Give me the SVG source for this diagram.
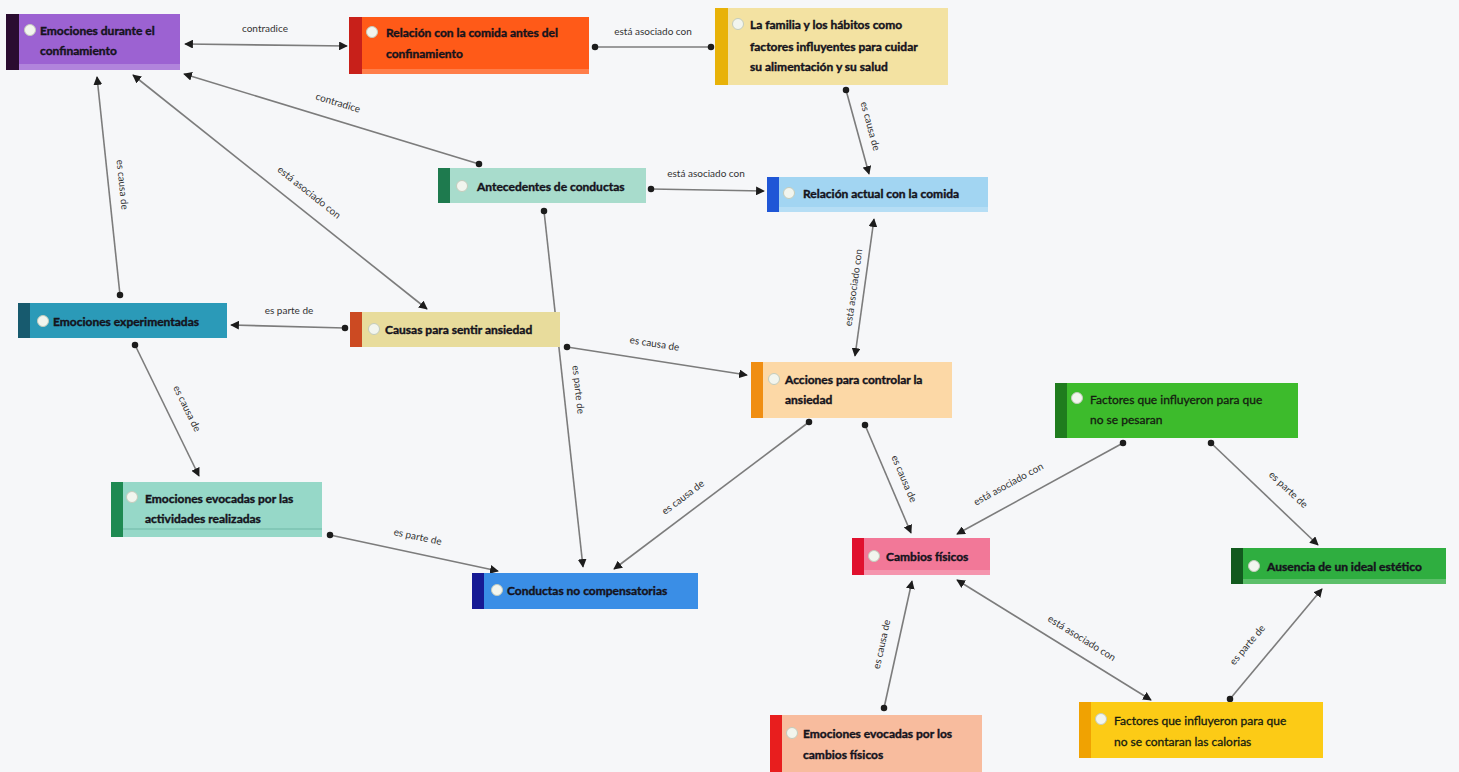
<svg xmlns="http://www.w3.org/2000/svg" width="1459" height="772" viewBox="0 0 1459 772">
<style>
.bg{fill:#f6f7f9}
.box{stroke:none}
.strip{fill:#ffffff;opacity:0.22}
.ico{fill:#f2f5ee;stroke:#c4ccbc;stroke-width:1}
.t{font-family:Lato,"Open Sans","Liberation Sans",sans-serif;font-size:12px;font-weight:700;fill:#15131c;stroke:#15131c;stroke-width:0.4}
.tn{font-weight:400;fill:#141a10;stroke:#141a10;stroke-width:0.3}
.c{stroke:#7c7c7c;stroke-width:1.6;fill:none}
.l{font-family:Lato,"Open Sans","Liberation Sans",sans-serif;font-size:10px;fill:#333333;text-anchor:middle}
</style>
<defs>
<marker id="dot" viewBox="0 0 10 10" refX="5" refY="5" markerWidth="4.5" markerHeight="4.5" markerUnits="strokeWidth"><circle cx="5" cy="5" r="4.5" fill="#1c1c1c"/></marker>
<marker id="arr" viewBox="0 0 10 10" refX="9" refY="5" markerWidth="5.5" markerHeight="5.5" orient="auto-start-reverse" markerUnits="strokeWidth"><path d="M0,0 L10,5 L0,10 z" fill="#1c1c1c"/></marker>
</defs>
<rect class="bg" x="0" y="0" width="1459" height="772"/>

<g id="connectors">
<line class="c" x1="185" y1="44" x2="347" y2="46" marker-start="url(#arr)" marker-end="url(#arr)"/>
<text class="l" x="265" y="32">contradice</text>
<line class="c" x1="595" y1="47" x2="711" y2="47" marker-start="url(#dot)" marker-end="url(#dot)"/>
<text class="l" x="653" y="35">está asociado con</text>
<line class="c" x1="846" y1="90" x2="869" y2="174" marker-start="url(#dot)" marker-end="url(#arr)"/>
<text class="l" transform="translate(867,127) rotate(75)">es causa de</text>
<line class="c" x1="651" y1="189" x2="764" y2="191" marker-start="url(#dot)" marker-end="url(#arr)"/>
<text class="l" x="706" y="177">está asociado con</text>
<line class="c" x1="479" y1="164" x2="184" y2="74" marker-start="url(#dot)" marker-end="url(#arr)"/>
<text class="l" transform="translate(337,106) rotate(17)">contradice</text>
<line class="c" x1="120" y1="295" x2="97" y2="77" marker-start="url(#dot)" marker-end="url(#arr)"/>
<text class="l" transform="translate(119,185) rotate(84)">es causa de</text>
<line class="c" x1="427" y1="309" x2="133" y2="75" marker-start="url(#arr)" marker-end="url(#arr)"/>
<text class="l" transform="translate(307,195) rotate(38.5)">está asociado con</text>
<line class="c" x1="345" y1="328" x2="231" y2="325" marker-start="url(#dot)" marker-end="url(#arr)"/>
<text class="l" x="289" y="314">es parte de</text>
<line class="c" x1="567" y1="347" x2="747" y2="375" marker-start="url(#dot)" marker-end="url(#arr)"/>
<text class="l" transform="translate(654,347) rotate(9)">es causa de</text>
<line class="c" x1="544" y1="211" x2="583" y2="567" marker-start="url(#dot)" marker-end="url(#arr)"/>
<text class="l" transform="translate(575,390) rotate(83.7)">es parte de</text>
<line class="c" x1="135" y1="345" x2="199" y2="476" marker-start="url(#dot)" marker-end="url(#arr)"/>
<text class="l" transform="translate(184,410) rotate(64)">es causa de</text>
<line class="c" x1="330" y1="535" x2="498" y2="571" marker-start="url(#dot)" marker-end="url(#arr)"/>
<text class="l" transform="translate(417,540) rotate(12)">es parte de</text>
<line class="c" x1="809" y1="422" x2="614" y2="569" marker-start="url(#dot)" marker-end="url(#arr)"/>
<text class="l" transform="translate(685,500) rotate(-37)">es causa de</text>
<line class="c" x1="874" y1="219" x2="855" y2="356" marker-start="url(#arr)" marker-end="url(#arr)"/>
<text class="l" transform="translate(857,288) rotate(-82)">está asociado con</text>
<line class="c" x1="865" y1="425" x2="911" y2="533" marker-start="url(#dot)" marker-end="url(#arr)"/>
<text class="l" transform="translate(901,480) rotate(67)">es causa de</text>
<line class="c" x1="1123" y1="443" x2="957" y2="534" marker-start="url(#dot)" marker-end="url(#arr)"/>
<text class="l" transform="translate(1010,487) rotate(-28.7)">está asociado con</text>
<line class="c" x1="1211" y1="443" x2="1318" y2="545" marker-start="url(#dot)" marker-end="url(#arr)"/>
<text class="l" transform="translate(1286,492) rotate(43)">es parte de</text>
<line class="c" x1="884" y1="708" x2="912" y2="581" marker-start="url(#dot)" marker-end="url(#arr)"/>
<text class="l" transform="translate(885,645) rotate(-77.5)">es causa de</text>
<line class="c" x1="957" y1="580" x2="1151" y2="700" marker-start="url(#arr)" marker-end="url(#arr)"/>
<text class="l" transform="translate(1080,641) rotate(31.7)">está asociado con</text>
<line class="c" x1="1230" y1="699" x2="1322" y2="589" marker-start="url(#dot)" marker-end="url(#arr)"/>
<text class="l" transform="translate(1250,647) rotate(-50)">es parte de</text>
</g>

<g id="n-emociones-confinamiento">
<rect class="box" x="6" y="14" width="174" height="56" fill="#9c62d2"/>
<rect class="strip" x="6" y="64" width="174" height="6"/>
<rect x="6" y="14" width="13" height="56" fill="#2a0c30"/>
<circle class="ico" cx="30" cy="30" r="5.5"/>
<text class="t" x="40" y="35">Emociones durante el</text>
<text class="t" x="40" y="55">confinamiento</text>
</g>

<g id="n-relacion-antes">
<rect class="box" x="349" y="17" width="240" height="57" fill="#ff5a18"/>
<rect class="strip" x="349" y="69" width="240" height="5"/>
<rect x="349" y="17" width="13" height="57" fill="#c8201a"/>
<circle class="ico" cx="372" cy="32" r="5.5"/>
<text class="t" x="386" y="37">Relación con la comida antes del</text>
<text class="t" x="386" y="58">confinamiento</text>
</g>

<g id="n-familia">
<rect class="box" x="715" y="8" width="233" height="77" fill="#f3e2a2"/>
<rect x="715" y="8" width="13" height="77" fill="#e8b208"/>
<circle class="ico" cx="738" cy="24" r="5.5"/>
<text class="t" x="750" y="29">La familia y los hábitos como</text>
<text class="t" x="750" y="51">factores influyentes para cuidar</text>
<text class="t" x="750" y="71">su alimentación y su salud</text>
</g>

<g id="n-antecedentes">
<rect class="box" x="438" y="168" width="208" height="35" fill="#a8dccc"/>
<rect x="438" y="168" width="12" height="35" fill="#1e7a4e"/>
<circle class="ico" cx="462" cy="186" r="5.5"/>
<text class="t" x="477" y="191">Antecedentes de conductas</text>
</g>

<g id="n-relacion-actual">
<rect class="box" x="767" y="177" width="221" height="35" fill="#a2d5f2"/>
<rect class="strip" x="767" y="207" width="221" height="5"/>
<rect x="767" y="177" width="12" height="35" fill="#1f56d6"/>
<circle class="ico" cx="789" cy="193" r="5.5"/>
<text class="t" x="803" y="198">Relación actual con la comida</text>
</g>

<g id="n-emociones-experimentadas">
<rect class="box" x="18" y="303" width="209" height="35" fill="#2b9ab8"/>
<rect x="18" y="303" width="12" height="35" fill="#175a6e"/>
<circle class="ico" cx="43" cy="321" r="5.5"/>
<text class="t" x="53" y="326">Emociones experimentadas</text>
</g>

<g id="n-causas">
<rect class="box" x="350" y="312" width="210" height="35" fill="#e8dc9c"/>
<rect x="350" y="312" width="12" height="35" fill="#cc4a22"/>
<circle class="ico" cx="374" cy="329" r="5.5"/>
<text class="t" x="385" y="334">Causas para sentir ansiedad</text>
</g>

<g id="n-acciones">
<rect class="box" x="751" y="362" width="201" height="56" fill="#fcd8a6"/>
<rect x="751" y="362" width="12" height="56" fill="#f08e12"/>
<circle class="ico" cx="774" cy="379" r="5.5"/>
<text class="t" x="785" y="384">Acciones para controlar la</text>
<text class="t" x="785" y="404">ansiedad</text>
</g>

<g id="n-factores-pesaran">
<rect class="box" x="1055" y="383" width="243" height="55" fill="#3dbb2c"/>
<rect x="1055" y="383" width="12" height="55" fill="#1f7c1e"/>
<circle class="ico" cx="1077" cy="398" r="5.5"/>
<text class="t tn" x="1090" y="404">Factores que influyeron para que</text>
<text class="t tn" x="1090" y="424">no se pesaran</text>
</g>

<g id="n-emociones-actividades">
<rect class="box" x="111" y="482" width="211" height="55" fill="#96d8c8"/>
<line x1="123" y1="529" x2="322" y2="529" stroke="#6fb8a6" stroke-width="1"/>
<rect x="111" y="482" width="12" height="55" fill="#1e8a52"/>
<circle class="ico" cx="132" cy="497" r="5.5"/>
<text class="t" x="145" y="503">Emociones evocadas por las</text>
<text class="t" x="145" y="523">actividades realizadas</text>
</g>

<g id="n-cambios">
<rect class="box" x="852" y="538" width="138" height="37" fill="#f27898"/>
<rect class="strip" x="852" y="570" width="138" height="5"/>
<rect x="852" y="538" width="12" height="37" fill="#e0102e"/>
<circle class="ico" cx="874" cy="556" r="5.5"/>
<text class="t" x="886" y="561">Cambios físicos</text>
</g>

<g id="n-ausencia">
<rect class="box" x="1231" y="548" width="215" height="36" fill="#2fae40"/>
<rect class="strip" x="1231" y="579" width="215" height="5"/>
<rect x="1231" y="548" width="12" height="36" fill="#125a1e"/>
<circle class="ico" cx="1254" cy="566" r="5.5"/>
<text class="t" x="1267" y="571">Ausencia de un ideal estético</text>
</g>

<g id="n-conductas">
<rect class="box" x="472" y="573" width="226" height="36" fill="#3a8ee6"/>
<rect x="472" y="573" width="12" height="36" fill="#161a94"/>
<circle class="ico" cx="497" cy="590" r="5.5"/>
<text class="t" x="507" y="595">Conductas no compensatorias</text>
</g>

<g id="n-emociones-cambios">
<rect class="box" x="770" y="715" width="212" height="60" fill="#f8bc9e"/>
<rect x="770" y="715" width="12" height="60" fill="#e81e1e"/>
<circle class="ico" cx="792" cy="733" r="5.5"/>
<text class="t" x="803" y="738">Emociones evocadas por los</text>
<text class="t" x="803" y="759">cambios físicos</text>
</g>

<g id="n-factores-calorias">
<rect class="box" x="1079" y="702" width="244" height="56" fill="#fccb16"/>
<rect x="1079" y="702" width="12" height="56" fill="#f0a202"/>
<circle class="ico" cx="1101" cy="719" r="5.5"/>
<text class="t tn" x="1114" y="725">Factores que influyeron para que</text>
<text class="t tn" x="1114" y="746">no se contaran las calorias</text>
</g>
</svg>
